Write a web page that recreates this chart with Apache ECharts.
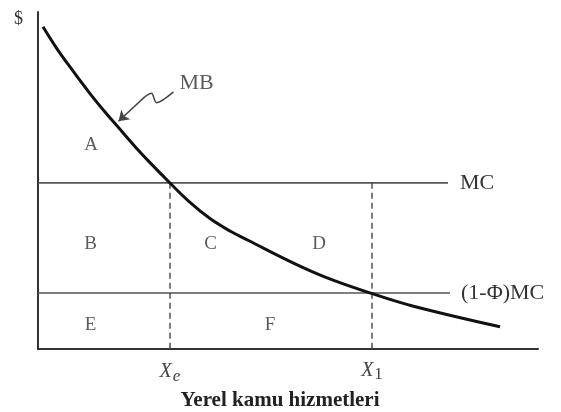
<!DOCTYPE html>
<html>
<head>
<meta charset="utf-8">
<script src="https://cdn.jsdelivr.net/npm/echarts@6/dist/echarts.min.js"></script>
<style>html,body{margin:0;padding:0;background:#fff}#c{width:561px;height:412px}</style>
</head>
<body>
<div id="c"></div>
<script>
// Marginal benefit curve (x in quantity units, y in $ units)
const mbX = [0.1, 0.37, 0.71, 1.04, 1.37, 1.64, 1.97, 2.24, 2.63, 3.04, 3.44, 3.84, 4.21, 5.11, 5.77, 6.67, 7.51, 9.24];
const mbY = [9.56, 8.93, 8.23, 7.58, 6.98, 6.52, 5.96, 5.53, 4.94, 4.35, 3.87, 3.50, 3.22, 2.55, 2.12, 1.65, 1.27, 0.66];
// Cost levels
const mcLevel = 4.93;
const lowMcLevel = 1.66;
const mcEnd = 8.2;
const lowMcEnd = 8.24;
// Quantities
const xE = 2.64;
const x1 = 6.68;
// Region labels
const regionNames = ['A', 'B', 'C', 'D', 'E', 'F'];
const regionX = [1.06, 1.05, 3.45, 5.62, 1.05, 4.64];
const regionY = [6.05, 3.12, 3.12, 3.12, 0.71, 0.71];
// MB annotation
const mbLabelPos = [3.17, 7.89];
const mbArrowX = [2.71, 2.37, 2.27, 2.14];
const mbArrowY = [7.63, 7.31, 7.59, 7.49];
const mbArrowTip = [1.61, 6.76];
// Texts
const xAxisName = 'Yerel kamu hizmetleri';
const yAxisName = '$';
const mcName = 'MC';
const lowMcName = '(1-Φ)MC';

const FONT = 'Liberation Serif';
const chart = echarts.init(document.getElementById('c'));

chart.setOption({
  backgroundColor: '#fff',
  animation: false,
  grid: { left: 38, right: 23, top: 12, bottom: 63, outerBoundsMode: 'none', containLabel: false },
  xAxis: {
    type: 'value', min: 0, max: 10,
    axisLine: { show: true, lineStyle: { color: '#333', width: 2 } },
    axisTick: { show: false },
    splitLine: { show: false },
    axisLabel: {
      customValues: [xE, x1],
      margin: 9,
      formatter: v => v === xE ? '{x|X}{e|e}' : '{x|X}{n|1}',
      rich: {
        x: { fontFamily: FONT, fontStyle: 'italic', fontSize: 20, color: '#444', lineHeight: 22 },
        e: { fontFamily: FONT, fontStyle: 'italic', fontSize: 17, color: '#444', padding: [10, 0, 0, 1] },
        n: { fontFamily: FONT, fontSize: 17, color: '#444', padding: [8, 0, 0, 1] }
      }
    },
    name: xAxisName,
    nameLocation: 'middle',
    nameGap: 37,
    nameTextStyle: { fontFamily: FONT, fontSize: 21, fontWeight: 'bold', color: '#222', padding: [0, 16, 0, 0] }
  },
  yAxis: {
    type: 'value', min: 0, max: 10,
    axisLine: { show: true, lineStyle: { color: '#333', width: 2 } },
    axisTick: { show: false },
    axisLabel: { show: false },
    splitLine: { show: false },
    name: yAxisName,
    nameLocation: 'end',
    nameGap: -7,
    nameTextStyle: { fontFamily: FONT, fontSize: 18, color: '#333', align: 'right', verticalAlign: 'middle', padding: [0, 15, 0, 0] }
  },
  series: [
    {
      type: 'line', symbol: 'none', silent: true,
      data: [[0, mcLevel], [mcEnd, mcLevel]],
      lineStyle: { color: '#555', width: 1.6 },
      endLabel: { show: true, formatter: mcName, distance: 12, fontFamily: FONT, fontSize: 22, color: '#333' }
    },
    {
      type: 'line', symbol: 'none', silent: true,
      data: [[0, lowMcLevel], [lowMcEnd, lowMcLevel]],
      lineStyle: { color: '#555', width: 1.6 },
      endLabel: { show: true, formatter: lowMcName, distance: 11, fontFamily: FONT, fontSize: 22, color: '#333' }
    },
    {
      type: 'line', symbol: 'none', silent: true,
      data: [[xE, mcLevel], [xE, 0]],
      lineStyle: { color: '#444', width: 1.4, type: [6, 4] }
    },
    {
      type: 'line', symbol: 'none', silent: true,
      data: [[x1, mcLevel], [x1, 0]],
      lineStyle: { color: '#444', width: 1.4, type: [6, 4] }
    },
    {
      type: 'line', symbol: 'none', smooth: 0.4, silent: true,
      data: mbX.map((x, i) => [x, mbY[i]]),
      lineStyle: { color: '#111', width: 3 }
    },
    {
      type: 'line', symbol: 'none', smooth: 0.3, silent: true,
      data: mbArrowX.map((x, i) => [x, mbArrowY[i]]),
      lineStyle: { color: '#444', width: 1.5 }
    },
    {
      type: 'lines', coordinateSystem: 'cartesian2d', silent: true,
      symbol: ['none', 'arrow'], symbolSize: 10,
      lineStyle: { color: '#444', width: 1.5, opacity: 1 },
      data: [{ coords: [[mbArrowX[mbArrowX.length - 1], mbArrowY[mbArrowY.length - 1]], mbArrowTip] }]
    },
    {
      type: 'scatter', symbolSize: 0, silent: true,
      data: regionNames.map((n, i) => ({ value: [regionX[i], regionY[i]], name: n })),
      label: {
        show: true, position: 'inside', formatter: p => p.name,
        fontFamily: FONT, fontSize: 19, color: '#333'
      }
    },
    {
      type: 'scatter', symbolSize: 0, silent: true,
      data: [{ value: mbLabelPos, name: 'MB' }],
      label: {
        show: true, position: 'inside', formatter: p => p.name,
        fontFamily: FONT, fontSize: 22, color: '#333'
      }
    }
  ]
});
</script>
</body>
</html>
